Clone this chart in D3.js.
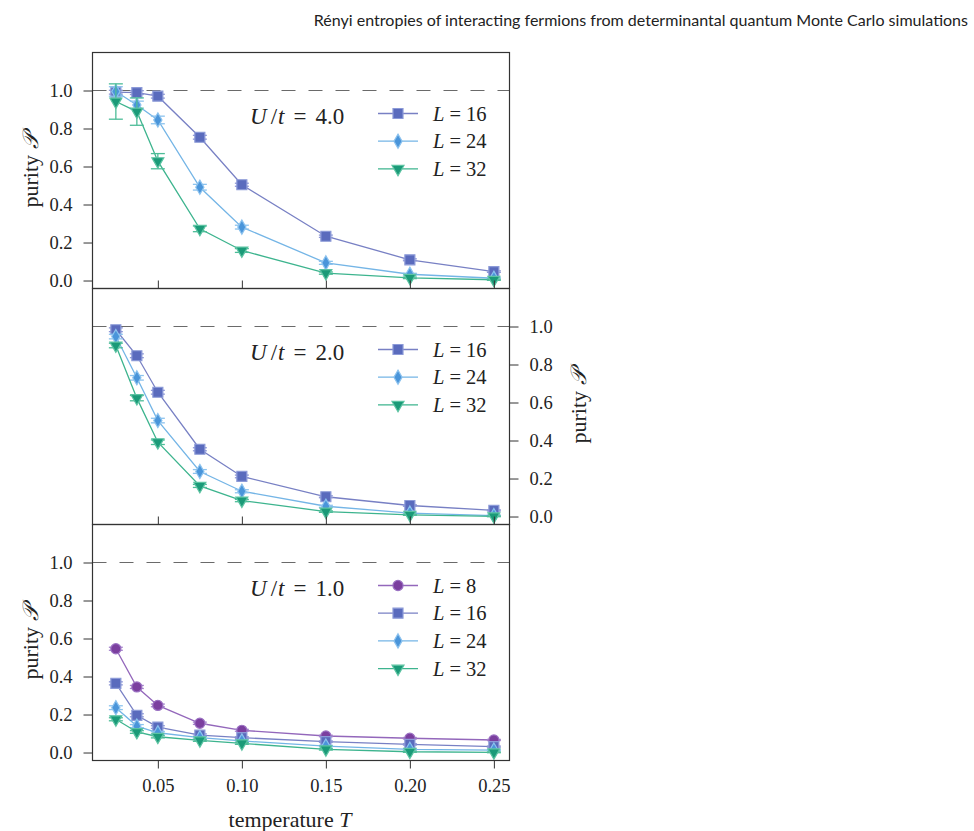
<!DOCTYPE html>
<html><head><meta charset="utf-8">
<script src="https://cdn.jsdelivr.net/npm/d3@7"></script>
<style>body{margin:0;background:#fff}svg{display:block}</style>
</head><body><svg id="c" width="974" height="831"></svg>
<script>
const temps = [0.025, 0.0375, 0.05, 0.075, 0.10, 0.15, 0.20, 0.25];
const xTicks = [0.05, 0.10, 0.15, 0.20, 0.25];
const yTicks = [0.0, 0.2, 0.4, 0.6, 0.8, 1.0];
const panelLabels = ["4.0", "2.0", "1.0"];

// U/t = 4.0
const u4_L16 = [0.991, 0.989, 0.970, 0.754, 0.504, 0.233, 0.109, 0.047];
const u4_L16_err = [0.010, 0.010, 0.010, 0.010, 0.008, 0.006, 0.005, 0.004];
const u4_L24 = [0.995, 0.924, 0.845, 0.491, 0.281, 0.093, 0.033, 0.012];
const u4_L24_err = [0.025, 0.020, 0.020, 0.015, 0.010, 0.008, 0.005, 0.004];
const u4_L32 = [0.942, 0.889, 0.628, 0.272, 0.158, 0.039, 0.014, 0.004];
const u4_L32_err = [0.093, 0.072, 0.040, 0.015, 0.010, 0.006, 0.004, 0.003];
// U/t = 2.0
const u2_L16 = [0.983, 0.846, 0.654, 0.354, 0.211, 0.104, 0.058, 0.032];
const u2_L16_err = [0.010, 0.010, 0.010, 0.008, 0.007, 0.005, 0.004, 0.003];
const u2_L24 = [0.947, 0.730, 0.505, 0.237, 0.133, 0.054, 0.018, 0.005];
const u2_L24_err = [0.012, 0.012, 0.012, 0.010, 0.008, 0.005, 0.004, 0.003];
const u2_L32 = [0.900, 0.623, 0.391, 0.161, 0.084, 0.026, 0.009, 0.001];
const u2_L32_err = [0.012, 0.014, 0.012, 0.008, 0.006, 0.004, 0.003, 0.002];
// U/t = 1.0
const u1_L8 = [0.546, 0.345, 0.248, 0.154, 0.117, 0.087, 0.075, 0.066];
const u1_L8_err = [0.008, 0.008, 0.007, 0.006, 0.005, 0.004, 0.004, 0.003];
const u1_L16 = [0.364, 0.196, 0.134, 0.092, 0.078, 0.057, 0.043, 0.031];
const u1_L16_err = [0.008, 0.008, 0.007, 0.006, 0.005, 0.004, 0.004, 0.003];
const u1_L24 = [0.236, 0.139, 0.104, 0.078, 0.061, 0.034, 0.017, 0.013];
const u1_L24_err = [0.010, 0.008, 0.007, 0.006, 0.005, 0.004, 0.004, 0.003];
const u1_L32 = [0.175, 0.108, 0.083, 0.064, 0.048, 0.017, 0.004, 0.001];
const u1_L32_err = [0.008, 0.007, 0.006, 0.005, 0.005, 0.004, 0.003, 0.002];

const styles = {
  8:  {sym: d3.symbolCircle,  size: 80, rot: 0,   fill: "#7b3f9f", stroke: "#9a70c2", line: "#9367bb", cap: "#a584cc"},
  16: {sym: d3.symbolSquare,  size: 100, rot: 0,  fill: "#5a6bbd", stroke: "#8c9ad8", line: "#7880c4", cap: "#8f98d6"},
  24: {sym: d3.symbolDiamond, size: 58, rot: 0,   fill: "#4a95da", stroke: "#8cc2ee", line: "#74b5e6", cap: "#8cc3ee"},
  32: {sym: d3.symbolTriangle,size: 62, rot: 180, fill: "#1b9a78", stroke: "#5cc3a2", line: "#3db48e", cap: "#4dbd98"}
};

const panels = [
  {label: panelLabels[0], axis: "left",  series: [[16,u4_L16,u4_L16_err],[24,u4_L24,u4_L24_err],[32,u4_L32,u4_L32_err]]},
  {label: panelLabels[1], axis: "right", series: [[16,u2_L16,u2_L16_err],[24,u2_L24,u2_L24_err],[32,u2_L32,u2_L32_err]]},
  {label: panelLabels[2], axis: "left",  series: [[8,u1_L8,u1_L8_err],[16,u1_L16,u1_L16_err],[24,u1_L24,u1_L24_err],[32,u1_L32,u1_L32_err]]}
];

const svg = d3.select("#c");
const X0 = 92.5, X1 = 509.5, PH = 236, tops = [52.5, 288.5, 524.5];
const serif = "'Liberation Serif','DejaVu Serif',serif";
const x = d3.scaleLinear().domain([0.0111, 0.2593]).range([X0, X1]);

// title
const title = svg.append("text").attr("x", 968).attr("y", 26).attr("text-anchor", "end")
  .style("font-family", "Lato,'Open Sans',sans-serif").style("font-size", "16px").attr("fill", "#222")
  .text("Rényi entropies of interacting fermions from determinantal quantum Monte Carlo simulations");
const tw = title.node().getComputedTextLength();
title.style("font-size", (16 * 655 / tw).toFixed(2) + "px");

panels.forEach((p, i) => {
  const top = tops[i];
  const y = d3.scaleLinear().domain([-0.042, 1.2]).range([top + PH, top]);
  const g = svg.append("g");

  // dashed reference line
  g.append("line").attr("x1", X0).attr("x2", X1).attr("y1", y(1)).attr("y2", y(1))
    .attr("stroke", "#6a6a6a").attr("stroke-width", 1.1).attr("stroke-dasharray", "14,13");

  // series
  p.series.forEach(([L, vals, errs]) => {
    const s = styles[L];
    const pts = temps.map((t, k) => ({t, v: vals[k], e: errs[k]}));
    g.append("path").datum(pts)
      .attr("d", d3.line().x(d => x(d.t)).y(d => y(d.v)))
      .attr("fill", "none").attr("stroke", s.line).attr("stroke-width", 1.3);
    const eb = g.append("g").attr("stroke", s.cap).attr("stroke-width", 1.3);
    pts.forEach(d => {
      const cx = x(d.t);
      eb.append("line").attr("x1", cx).attr("x2", cx).attr("y1", y(d.v - d.e)).attr("y2", y(d.v + d.e));
      [d.v - d.e, d.v + d.e].forEach(v => eb.append("line").attr("x1", cx - 7).attr("x2", cx + 7).attr("y1", y(v)).attr("y2", y(v)));
    });
    g.append("g").selectAll("path").data(pts).join("path")
      .attr("d", d3.symbol().type(s.sym).size(s.size))
      .attr("transform", d => `translate(${x(d.t)},${y(d.v)}) rotate(${s.rot})`)
      .attr("fill", s.fill).attr("stroke", s.stroke).attr("stroke-width", 1.2);
  });

  // frame
  g.append("rect").attr("x", X0).attr("y", top).attr("width", X1 - X0).attr("height", PH)
    .attr("fill", "none").attr("stroke", "#333").attr("stroke-width", 1.2);

  // y axis
  const yAxis = (p.axis === "left" ? d3.axisLeft(y) : d3.axisRight(y))
    .tickValues(yTicks).tickFormat(d3.format(".1f")).tickSize(9).tickPadding(11);
  const ya = g.append("g").attr("transform", `translate(${p.axis === "left" ? X0 : X1},0)`).call(yAxis);
  ya.select(".domain").remove();
  ya.selectAll("line").attr("stroke", "#333");
  ya.selectAll("text").style("font-family", serif).style("font-size", "18.5px").attr("fill", "#222");

  // x axis
  if (i < 2) {
    const xa = g.append("g").attr("transform", `translate(0,${top + PH})`)
      .call(d3.axisTop(x).tickValues(xTicks).tickSize(8).tickFormat(""));
    xa.select(".domain").remove();
    xa.selectAll("line").attr("stroke", "#333");
  } else {
    const xa = g.append("g").attr("transform", `translate(0,${top + PH})`)
      .call(d3.axisBottom(x).tickValues(xTicks).tickSize(8).tickPadding(10).tickFormat(d3.format(".2f")));
    xa.select(".domain").remove();
    xa.selectAll("line").attr("stroke", "#333");
    xa.selectAll("text").style("font-family", serif).style("font-size", "18.5px").attr("fill", "#222");
  }

  // y label
  const lx = p.axis === "left" ? 30 : 578;
  const yl = g.append("text").attr("transform", `translate(${lx},${top + PH / 2}) rotate(-90)`)
    .attr("text-anchor", "middle").attr("dy", "0.35em")
    .style("font-family", serif).style("font-size", "22px").attr("fill", "#222");
  yl.append("tspan").text("purity ");
  yl.append("tspan").style("font-style", "italic").text("𝒫");

  // panel label U/t
  const ul = g.append("text").attr("x", 250).attr("y", top + 71)
    .style("font-family", serif).style("font-size", "23px").attr("fill", "#222");
  ul.append("tspan").style("font-style", "italic").text("U");
  ul.append("tspan").attr("dx", 4).text("/");
  ul.append("tspan").attr("dx", 1).style("font-style", "italic").text("t");
  ul.append("tspan").attr("dx", 9).text("=");
  ul.append("tspan").attr("dx", 9).text(p.label);

  // legend
  const ly0 = top + 61;
  const dy = 27.7;
  p.series.forEach(([L], k) => {
    const s = styles[L];
    const ly = ly0 + k * dy;
    g.append("line").attr("x1", 378).attr("x2", 418).attr("y1", ly).attr("y2", ly)
      .attr("stroke", s.line).attr("stroke-width", 1.3);
    g.append("path").attr("d", d3.symbol().type(s.sym).size(s.size))
      .attr("transform", `translate(398,${ly}) rotate(${s.rot})`)
      .attr("fill", s.fill).attr("stroke", s.stroke).attr("stroke-width", 1.2);
    const lt = g.append("text").attr("x", 433).attr("y", ly).attr("dy", "0.35em")
      .style("font-family", serif).style("font-size", "20.5px").attr("fill", "#222");
    lt.append("tspan").style("font-style", "italic").text("L");
    lt.append("tspan").attr("dx", 5).text("=");
    lt.append("tspan").attr("dx", 5).text(String(L));
  });
});

// x label
const xl = svg.append("text").attr("x", 290).attr("y", 827).attr("text-anchor", "middle")
  .style("font-family", serif).style("font-size", "22px").attr("fill", "#222");
xl.append("tspan").text("temperature  ");
xl.append("tspan").style("font-style", "italic").text("T");
</script></body></html>
